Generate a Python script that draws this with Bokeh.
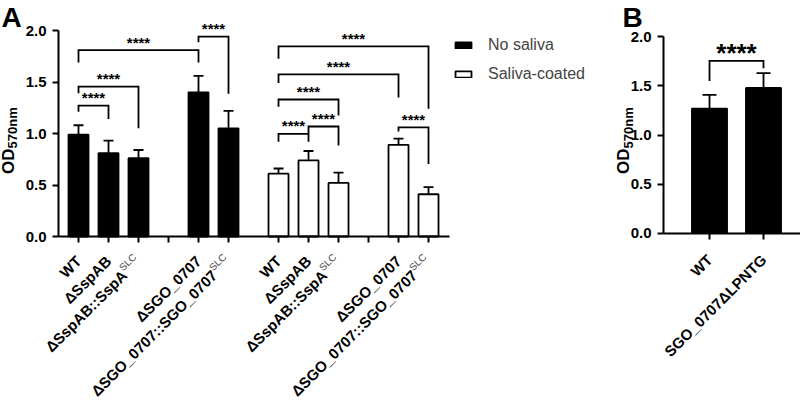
from math import pi, sqrt
import numpy as np
from bokeh.plotting import figure
from bokeh.models import (ColumnDataSource, Whisker, TeeHead, FixedTicker,
                          CustomJSTickFormatter, PrintfTickFormatter, Legend, LegendItem, Range1d)
from bokeh.core.properties import value
from bokeh.layouts import row
from bokeh.embed import file_html
from bokeh.resources import INLINE

FONT = "Liberation Sans"

# ---------------- data: panel A ----------------
strains = ["WT", "ΔSspAB", "ΔSspAB::SspA", "", "ΔSGO_0707", "ΔSGO_0707::SGO_0707"]
strain_sup = ["", "", "SLC", "", "", "SLC"]
conditions = ["No saliva", "Saliva-coated"]
no_saliva_mean = [0.99, 0.81, 0.76, None, 1.40, 1.05]
no_saliva_sd = [0.09, 0.12, 0.08, None, 0.16, 0.17]
saliva_mean = [0.61, 0.74, 0.52, None, 0.89, 0.41]
saliva_sd = [0.05, 0.09, 0.10, None, 0.06, 0.07]
y_ticks = [0.0, 0.5, 1.0, 1.5, 2.0]

# significance brackets, panel A (slot index: 0-5 no saliva, 6-11 saliva-coated)
sig_a_left = [0, 0, 0, 4, 6, 7, 6, 6, 6, 10]
sig_a_right = [1, 2, 4, 5, 7, 8, 8, 10, 11, 11]
sig_a_top = [1.27, 1.456, 1.81, 1.94, 0.997, 1.068, 1.33, 1.575, 1.845, 1.06]
sig_a_left_end = [1.21, 1.39, 1.69, 1.885, 0.92, 1.0, 1.26, 1.49, 1.725, 1.02]
sig_a_right_end = [1.14, 1.05, 1.69, 1.385, 0.92, 0.883, 1.175, 1.35, 1.24, 0.705]
sig_a_label = ["****"] * 10

# ---------------- data: panel B ----------------
strains_b = ["WT", "SGO_0707ΔLPNTG"]
b_mean = [1.27, 1.48]
b_sd = [0.14, 0.15]
sig_b_left = [0]
sig_b_right = [1]
sig_b_top = [1.755]
sig_b_left_end = [1.55]
sig_b_right_end = [1.68]
sig_b_label = ["****"]
y_label_main, y_label_sub = "OD", "570nm"

# ---------------- layout helpers ----------------
GROUP_GAP = 0.667
n = len(strains)
slot = np.arange(2 * n)
xpos = [float(v) for v in slot + GROUP_GAP * (slot >= n)]
K = sqrt(0.5)


class Frame:
    """maps canvas pixels (from top-left of this figure) to data units"""
    def __init__(self, x0, x1, y0, y1, w, h):
        self.x0, self.y1 = x0, y1
        self.sx = w / (x1 - x0)
        self.sy = h / (y1 - y0)

    def X(self, px):
        return self.x0 + px / self.sx

    def Y(self, py):
        return self.y1 - py / self.sy

    def dx(self, px):
        return px / self.sx

    def dy(self, px):
        return px / self.sy


def make_fig(w, h, xr, yr):
    p = figure(width=w, height=h, output_backend="svg", toolbar_location=None,
               x_range=Range1d(*xr), y_range=Range1d(*yr),
               min_border_left=0, min_border_right=0, min_border_top=0, min_border_bottom=0,
               background_fill_color="white", border_fill_color="white")
    p.xgrid.visible = False
    p.ygrid.visible = False
    p.outline_line_color = None
    return p


def style_axes(p, xticks, xbounds, y_axis_x):
    for ax in (p.xaxis[0], p.yaxis[0]):
        ax.axis_line_width = 2
        ax.axis_line_color = "black"
        ax.major_tick_line_width = 2
        ax.major_tick_line_color = "black"
        ax.major_tick_out = 6
        ax.major_tick_in = 0
        ax.minor_tick_line_color = None
        ax.major_label_text_font = FONT
        ax.major_label_text_font_style = "bold"
        ax.major_label_text_font_size = "15px"
        ax.major_label_text_color = "black"
    p.yaxis[0].ticker = FixedTicker(ticks=y_ticks)
    p.yaxis[0].formatter = PrintfTickFormatter(format="%.1f")
    p.yaxis[0].bounds = (y_ticks[0], y_ticks[-1])
    p.yaxis[0].major_label_standoff = 6
    p.yaxis[0].fixed_location = y_axis_x
    p.xaxis[0].ticker = FixedTicker(ticks=list(xticks))
    p.xaxis[0].formatter = CustomJSTickFormatter(code="return ''")
    p.xaxis[0].bounds = xbounds
    p.xaxis[0].fixed_location = 0


def add_bars(p, src, color, bar_width, cap):
    r = p.vbar(x="x", top="top", bottom=0, width=bar_width, source=src,
               fill_color=color, line_color="black", line_width=1.8)
    w = Whisker(base="x", upper="upper", lower="top", source=src, dimension="height",
                line_color="black", line_width=1.8,
                upper_head=TeeHead(size=cap, line_color="black", line_width=1.8), lower_head=None)
    p.add_layout(w)
    return r


def bar_source(xs_all, means, sds):
    xs, tops, ups = [], [], []
    for x, m, s in zip(xs_all, means, sds):
        if m is None:
            continue
        xs.append(x); tops.append(m); ups.append(m + s)
    return ColumnDataSource(dict(x=xs, top=tops, upper=ups))


def txt(p, x, y, text, size, bold=True, align="left", angle=0.0, color="black"):
    p.text(x=x, y=y, text=text, angle=angle, text_align=align, text_baseline="middle",
           text_font=value(FONT), text_font_style="bold" if bold else "normal",
           text_font_size=size, text_color=color)


def add_brackets(p, fr, xs_all, left, right, top, lend, rend, labels, font_size, lift):
    xs, ys, mx, my = [], [], [], []
    for l, r, t, le, re in zip(left, right, top, lend, rend):
        xl, xr = xs_all[l], xs_all[r]
        xs.append([xl, xl, xr, xr])
        ys.append([le, t, t, re])
        mx.append((xl + xr) / 2)
        my.append(t + fr.dy(lift))
    p.multi_line(xs=xs, ys=ys, line_color="black", line_width=1.8, line_join="miter")
    txt(p, mx, my, labels, font_size, align="center")


def add_tick_labels(p, fr, xs_all, texts, sups, drop, s=20, pp=5):
    mx, my, mt, sx, sy, st = [], [], [], [], [], []
    for x, t, sp in zip(xs_all, texts, sups):
        if not t:
            continue
        back = s if sp else 0
        mx.append(x - fr.dx(K * back)); my.append(-fr.dy(drop + K * back)); mt.append(t)
        if sp:
            sx.append(x - fr.dx(K * back + K * pp)); sy.append(-fr.dy(drop + K * back - K * pp))
            st.append(sp)
    txt(p, mx, my, mt, "15px", align="right", angle=pi / 4)
    if st:
        txt(p, sx, sy, st, "10px", bold=False, align="left", angle=pi / 4, color="#444444")


def add_ylabel(p, fr, px_main, px_sub, py):
    txt(p, [fr.X(px_main)], [fr.Y(py)], [y_label_main], "17px", align="right", angle=pi / 2)
    txt(p, [fr.X(px_sub)], [fr.Y(py)], [y_label_sub], "13px", align="left", angle=pi / 2)


# ---------------- panel A ----------------
WA, H = 608, 400
A_X0 = -78 / 30.0
A_X1 = A_X0 + WA / 30.0
A_Y1 = 236 / 103.0
A_Y0 = A_Y1 - H / 103.0
pA = make_fig(WA, H, (A_X0, A_X1), (A_Y0, A_Y1))
frA = Frame(A_X0, A_X1, A_Y0, A_Y1, WA, H)
style_axes(pA, xpos, (frA.X(58), 12.37), frA.X(58))

src_no = bar_source(xpos[:n], no_saliva_mean, no_saliva_sd)
src_sal = bar_source(xpos[n:], saliva_mean, saliva_sd)
r_no = add_bars(pA, src_no, "black", 0.667, 10)
r_sal = add_bars(pA, src_sal, "white", 0.667, 10)

add_brackets(pA, frA, xpos, sig_a_left, sig_a_right, sig_a_top, sig_a_left_end, sig_a_right_end,
             sig_a_label, "15px", 8)
add_tick_labels(pA, frA, xpos, strains + strains, strain_sup + strain_sup, 22)
add_ylabel(pA, frA, 7.5, 12, 148)
txt(pA, [frA.X(1)], [frA.Y(17)], ["A"], "28px")

legend = Legend(items=[LegendItem(label=conditions[0], renderers=[r_no]),
                       LegendItem(label=conditions[1], renderers=[r_sal])],
                location=(453, 317), orientation="vertical", glyph_width=20, glyph_height=8,
                label_standoff=15, label_text_font=FONT, label_text_font_size="16px",
                label_height=16, spacing=11, padding=0, margin=0,
                border_line_color=None, background_fill_alpha=0)
pA.add_layout(legend)

# ---------------- panel B ----------------
WB = 192
xpos_b = [float(i) for i in range(len(strains_b))]
B_X0 = -101 / 54.0
B_X1 = B_X0 + WB / 54.0
B_Y1 = 232.7 / 98.15
B_Y0 = B_Y1 - H / 98.15
pB = make_fig(WB, H, (B_X0, B_X1), (B_Y0, B_Y1))
frB = Frame(B_X0, B_X1, B_Y0, B_Y1, WB, H)
style_axes(pB, xpos_b, (frB.X(55), B_X1), frB.X(55))
src_b = bar_source(xpos_b, b_mean, b_sd)
add_bars(pB, src_b, "black", 0.65, 14)
add_brackets(pB, frB, xpos_b, sig_b_left, sig_b_right, sig_b_top, sig_b_left_end, sig_b_right_end,
             sig_b_label, "26px", 8)
add_tick_labels(pB, frB, xpos_b, strains_b, ["", ""], 24)
add_ylabel(pB, frB, 15, 19.5, 148)
txt(pB, [frB.X(14)], [frB.Y(17)], ["B"], "28px")

layout = row(pA, pB)
open("out.html", "w").write(file_html(layout, INLINE))
